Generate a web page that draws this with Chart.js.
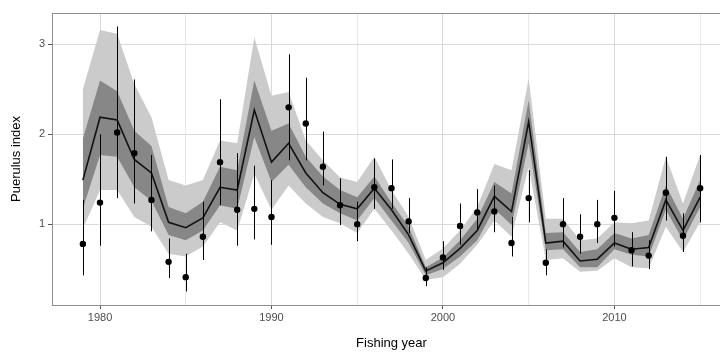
<!DOCTYPE html>
<html>
<head>
    <title>Puerulus index</title>
    <script src="https://cdn.jsdelivr.net/npm/chart.js"></script>
    <style>
        body { margin: 0; overflow: hidden; background: #fff; }
    </style>
</head>
<body>
    <div style="width:740px;height:352px">
        <canvas id="puerulusChart" width="740" height="352"></canvas>
    </div>

    <script>
        // Fishing years and the values
        const years = [1979, 1980, 1981, 1982, 1983, 1984, 1985, 1986, 1987, 1988, 1989, 1990,
            1991, 1992, 1993, 1994, 1995, 1996, 1997, 1998, 1999, 2000, 2001, 2002,
            2003, 2004, 2005, 2006, 2007, 2008, 2009, 2010, 2011, 2012, 2013, 2014, 2015];

        // model median and credible bands
        const median = [1.49, 2.19, 2.16, 1.72, 1.57, 1.02, 0.96, 1.07, 1.41, 1.38, 2.27, 1.69,
            1.90, 1.57, 1.35, 1.22, 1.17, 1.40, 1.16, 0.88, 0.48, 0.57, 0.73, 0.93,
            1.31, 1.14, 2.14, 0.79, 0.81, 0.59, 0.61, 0.79, 0.72, 0.74, 1.27, 0.93, 1.30];
        const innerLo = [1.17, 1.77, 1.75, 1.41, 1.26, 0.88, 0.82, 0.93, 1.21, 1.17, 1.97, 1.47,
            1.66, 1.41, 1.23, 1.12, 1.04, 1.29, 1.04, 0.79, 0.43, 0.50, 0.64, 0.82,
            1.17, 0.99, 1.90, 0.71, 0.72, 0.52, 0.52, 0.72, 0.66, 0.64, 1.16, 0.82, 1.19];
        const innerHi = [1.95, 2.60, 2.48, 2.04, 1.87, 1.19, 1.12, 1.25, 1.64, 1.60, 2.60, 2.04,
            2.12, 1.75, 1.53, 1.38, 1.30, 1.53, 1.24, 0.97, 0.52, 0.63, 0.82, 1.06,
            1.47, 1.34, 2.38, 0.90, 0.91, 0.69, 0.72, 0.90, 0.84, 0.88, 1.43, 1.06, 1.49];
        const outerLo = [0.95, 1.38, 1.38, 1.08, 0.97, 0.67, 0.64, 0.75, 1.02, 0.93, 1.56, 1.16,
            1.43, 1.23, 1.08, 1.01, 0.90, 1.17, 0.93, 0.67, 0.38, 0.41, 0.56, 0.77,
            1.04, 0.86, 1.64, 0.60, 0.62, 0.47, 0.48, 0.62, 0.52, 0.51, 0.97, 0.69, 1.02];
        const outerHi = [2.50, 3.16, 3.12, 2.56, 2.19, 1.49, 1.43, 1.49, 1.93, 1.90, 3.08, 2.43,
            2.47, 1.93, 1.71, 1.52, 1.47, 1.75, 1.38, 1.08, 0.60, 0.73, 0.93, 1.19,
            1.67, 1.60, 2.62, 1.06, 1.06, 0.82, 0.84, 1.02, 1.01, 1.04, 1.75, 1.23, 1.77];

        // observed index with error bars
        const observed = [0.78, 1.24, 2.02, 1.79, 1.27, 0.58, 0.41, 0.86, 1.69, 1.16, 1.17, 1.08,
            2.30, 2.12, 1.64, 1.21, 1.00, 1.41, 1.40, 1.03, 0.40, 0.63, 0.98, 1.13,
            1.14, 0.79, 1.29, 0.57, 1.00, 0.86, 1.00, 1.07, 0.71, 0.65, 1.35, 0.87, 1.40];
        const errLo = [0.43, 0.76, 1.29, 1.23, 0.92, 0.40, 0.25, 0.60, 1.21, 0.76, 0.83, 0.77,
            1.71, 1.71, 1.43, 0.99, 0.81, 1.17, 1.17, 0.90, 0.31, 0.49, 0.77, 0.93,
            0.91, 0.64, 1.02, 0.43, 0.74, 0.67, 0.79, 0.75, 0.53, 0.50, 1.04, 0.69, 1.02];
        const errHi = [1.27, 2.00, 3.20, 2.61, 1.77, 0.84, 0.67, 1.25, 2.39, 1.79, 1.65, 1.49,
            2.89, 2.63, 2.03, 1.51, 1.25, 1.73, 1.72, 1.29, 0.52, 0.81, 1.23, 1.39,
            1.43, 1.08, 1.60, 0.72, 1.29, 1.11, 1.27, 1.37, 0.91, 0.82, 1.75, 1.12, 1.77];

        // axis ticks
        const xTicks = [1980, 1985, 1990, 1995, 2000, 2005, 2010, 2015];
        const xLabels = [1980, 1990, 2000, 2010];
        const yTicks = [1, 2, 3];

        const pts = arr => years.map((yr, i) => ({ x: yr, y: arr[i] }));

        // vertical error bars, drawn just before the points
        const errorBars = {
            id: 'errorBars',
            beforeDatasetDraw(chart, args) {
                if (args.index !== 5) return;
                const { ctx, scales: { x, y } } = chart;
                ctx.save();
                ctx.strokeStyle = '#000';
                ctx.lineWidth = 1;
                years.forEach((yr, i) => {
                    const px = Math.round(x.getPixelForValue(yr)) + 0.5;
                    ctx.beginPath();
                    ctx.moveTo(px, y.getPixelForValue(errLo[i]));
                    ctx.lineTo(px, y.getPixelForValue(errHi[i]));
                    ctx.stroke();
                });
                ctx.restore();
            }
        };

        // panel border like theme_bw
        const panelBorder = {
            id: 'panelBorder',
            afterDraw(chart) {
                const { ctx, chartArea: a } = chart;
                ctx.save();
                ctx.strokeStyle = '#8f8f8f';
                ctx.lineWidth = 1;
                ctx.strokeRect(Math.round(a.left) + 0.5, Math.round(a.top) + 0.5,
                    Math.round(a.width), Math.round(a.height));
                ctx.restore();
            }
        };

        const band = { borderWidth: 0, pointRadius: 0, tension: 0 };

        const ctx = document.getElementById('puerulusChart').getContext('2d');
        new Chart(ctx, {
            type: 'line',
            data: {
                datasets: [
                    { ...band, data: pts(outerLo), fill: false, order: 6 },
                    { ...band, data: pts(outerHi), fill: '-1', backgroundColor: '#cbcbcb', order: 5 },
                    { ...band, data: pts(innerLo), fill: false, order: 4 },
                    { ...band, data: pts(innerHi), fill: '-1', backgroundColor: '#878787', order: 3 },
                    { data: pts(median), borderColor: '#111', borderWidth: 1.6, pointRadius: 0, fill: false, tension: 0, order: 2 },
                    { data: pts(observed), showLine: false, pointRadius: 3.2, pointBackgroundColor: '#000', pointBorderWidth: 0, order: 1 }
                ]
            },
            options: {
                responsive: false,
                animation: false,
                layout: { padding: { top: 13, right: 9, left: 0, bottom: 0 } },
                plugins: { legend: { display: false }, tooltip: { enabled: false } },
                scales: {
                    x: {
                        type: 'linear',
                        min: 1977.2,
                        max: 2016.8,
                        afterBuildTicks: s => { s.ticks = xTicks.map(v => ({ value: v })); },
                        afterFit: s => { s.height = 47; },
                        border: { display: false },
                        grid: {
                            color: c => xLabels.includes(c.tick.value) ? '#d9d9d9' : '#e8e8e8',
                            tickColor: c => xLabels.includes(c.tick.value) ? '#555' : 'rgba(0,0,0,0)',
                            tickLength: 4
                        },
                        ticks: {
                            autoSkip: false,
                            maxRotation: 0,
                            padding: 2,
                            color: '#4d4d4d',
                            font: { family: 'Liberation Sans', size: 11 },
                            callback: v => xLabels.includes(v) ? String(v) : ''
                        },
                        title: {
                            display: true,
                            text: 'Fishing year',
                            color: '#000',
                            font: { family: 'Liberation Sans', size: 13 },
                            padding: { top: 0, bottom: 1 }
                        }
                    },
                    y: {
                        min: 0.1,
                        max: 3.35,
                        afterBuildTicks: s => { s.ticks = yTicks.map(v => ({ value: v })); },
                        afterFit: s => { s.width = 52; },
                        border: { display: false },
                        grid: { color: '#d9d9d9', tickColor: '#555', tickLength: 4 },
                        ticks: {
                            padding: 3,
                            color: '#4d4d4d',
                            font: { family: 'Liberation Sans', size: 11 },
                            callback: v => String(v)
                        },
                        title: {
                            display: true,
                            text: 'Puerulus index',
                            color: '#000',
                            font: { family: 'Liberation Sans', size: 13 },
                            padding: { top: 9, bottom: 0 }
                        }
                    }
                }
            },
            plugins: [errorBars, panelBorder]
        });
    </script>
</body>
</html>
